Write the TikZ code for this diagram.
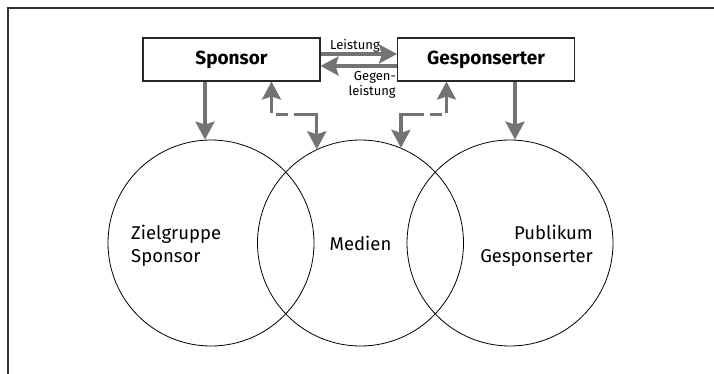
\documentclass[tikz,border=0pt]{standalone}
\usepackage{fontspec}
\setmainfont{Fira Sans}
\usetikzlibrary{arrows.meta}
\definecolor{pfeilgrau}{HTML}{737373}

\begin{document}
\begin{tikzpicture}[x=1pt, y=-1pt,
    box/.style={draw=black!85, line width=1.1pt, minimum width=177pt, minimum height=43pt, inner sep=0pt, font=\fontsize{19}{23}\selectfont\bfseries},
    kreis/.style={draw, circle, line width=0.8pt, minimum size=206pt, inner sep=0pt, font=\fontsize{18.5}{22.7}\selectfont},
    lbl/.style={inner sep=0pt, font=\fontsize{18.5}{22.7}\selectfont},
    klein/.style={inner sep=0pt, font=\fontsize{13}{15}\selectfont},
    pfeil/.style={pfeilgrau, line width=3.2pt, -{Stealth[length=18pt, width=19pt, inset=3pt]}},
    strich/.style={pfeil, {Stealth[length=18pt, width=19pt, inset=3pt]}-{Stealth[length=18pt, width=19pt, inset=3pt]}, dash pattern=on 17pt off 6pt on 12pt off 6pt on 60pt}]
      \useasboundingbox (0,0) rectangle (714,374);
      \draw [black!80, line width=1.2pt] (8,374) -- (8,8) -- (714,8);
      \node[box] (sponsor) at (231.5,59.5) {Sponsor};
      \node[box] (gesp) at (486,59.5) {Gesponserter};
      \foreach \n/\x in {zg/211, med/360.5, pub/510}{
        \node[kreis] (\n) at (\x,243) {};
      }
      \node[lbl] (medtext) at (med) {Medien};
      \node[lbl, align=left, anchor=west] (zgtext) at (131,245.5) {Zielgruppe\\Sponsor};
      \node[lbl, align=right, anchor=east] (pubtext) at (593,245.5) {Publikum\\Gesponserter};
      % Leistung und Gegenleistung
      \draw [pfeil] ([yshift=5.5pt]sponsor.east) -- ([yshift=5.5pt]gesp.west);
      \draw [pfeil] ([yshift=-6.5pt]gesp.west) -- ([yshift=-6.5pt]sponsor.east);
      \node[klein, anchor=base] (leist) at (355,49.5) {Leistung};
      \node[klein, align=right, anchor=north east] (gegen) at ([xshift=-1pt, yshift=10pt]gesp.south west) {Gegen-\\leistung};
      % Zielgruppen
      \draw [pfeil] ([xshift=-26.5pt]sponsor.south) -- ([xshift=-26.5pt]sponsor.south |- zg.north);
      \draw [pfeil] ([xshift=29pt]gesp.south) -- ([xshift=29pt]gesp.south |- pub.north);
      % Medien
      \draw [strich] ([xshift=40pt]sponsor.south) -- ++(0,33) -| (med.115);
      \draw [strich] ([xshift=-39.5pt]gesp.south) -- ++(0,33) -| (med.67);
    \end{tikzpicture}
\end{document}
